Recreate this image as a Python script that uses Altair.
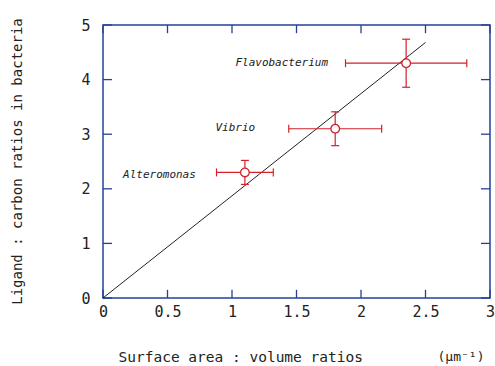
import altair as alt
import pandas as pd

# ---- data ----
names = ["Alteromonas", "Vibrio", "Flavobacterium"]
sa_vol = [1.10, 1.80, 2.35]          # surface area : volume (µm^-1)
sa_err = [0.22, 0.36, 0.47]
ligand_c = [2.30, 3.10, 4.30]        # ligand : carbon
ligand_err = [0.22, 0.31, 0.44]
label_x = [0.72, 1.18, 1.745]        # right edge of the species labels
label_y = [2.25, 3.11, 4.30]
fit_x = [0.0, 2.5]
fit_y = [0.0, 4.68]
x_ticks = [0, 0.5, 1, 1.5, 2, 2.5, 3]
y_ticks = [0, 1, 2, 3, 4, 5]

RED = "#d3202b"
BLUE = "#26409a"
INK = "#222222"
MONO = "DejaVu Sans Mono"

pts = pd.DataFrame({"name": names, "x": sa_vol, "xe": sa_err, "y": ligand_c, "ye": ligand_err,
                    "lx": label_x, "ly": label_y})
fit = pd.DataFrame({"x": fit_x, "y": fit_y})
xt = pd.DataFrame({"t": x_ticks})
yt = pd.DataFrame({"t": y_ticks})

xs = alt.Scale(domain=[0, 3], nice=False, zero=False)
ys = alt.Scale(domain=[0, 5], nice=False, zero=False)
xaxis = alt.Axis(values=x_ticks, format="~g", title="Surface area : volume ratios",
                 titleAnchor="start", titleX=15, titleY=59, titleBaseline="middle",
                 titleFontSize=14.5, titleFont=MONO, titleFontWeight="normal", titleColor=INK,
                 labelFont=MONO, labelFontSize=15, labelColor=INK, labelPadding=6, labelFlush=False,
                 labelOverlap=False, domain=False, ticks=False, grid=False)
yaxis = alt.Axis(values=y_ticks, format="~g", title="Ligand : carbon ratios in bacteria",
                 titleX=-86, titleY=136, titleAnchor="middle", titleBaseline="middle", titleAlign="center",
                 titleFontSize=14, titleFont=MONO, titleFontWeight="normal", titleColor=INK,
                 labelFont=MONO, labelFontSize=15, labelColor=INK, labelPadding=13, labelFlush=False,
                 labelOverlap=False, domain=False, ticks=False, grid=False)


def X(f):
    return alt.X(f, type="quantitative", scale=xs, axis=xaxis)


def Y(f):
    return alt.Y(f, type="quantitative", scale=ys, axis=yaxis)


base = alt.Chart(pts).transform_calculate(
    xlo="datum.x - datum.xe", xhi="datum.x + datum.xe",
    ylo="datum.y - datum.ye", yhi="datum.y + datum.ye")

fit_line = alt.Chart(fit).mark_line(color=INK, strokeWidth=1).encode(x=X("x"), y=Y("y"))

hbar = base.mark_rule(color=RED, strokeWidth=1.2).encode(x=X("xlo"), x2="xhi", y=Y("y"))
vbar = base.mark_rule(color=RED, strokeWidth=1.2).encode(x=X("x"), y=Y("ylo"), y2="yhi")
cap_l = base.mark_tick(orient="vertical", color=RED, size=8, thickness=1.2, opacity=1).encode(x=X("xlo"), y=Y("y"))
cap_r = base.mark_tick(orient="vertical", color=RED, size=8, thickness=1.2, opacity=1).encode(x=X("xhi"), y=Y("y"))
cap_b = base.mark_tick(orient="horizontal", color=RED, size=8, thickness=1.2, opacity=1).encode(x=X("x"), y=Y("ylo"))
cap_t = base.mark_tick(orient="horizontal", color=RED, size=8, thickness=1.2, opacity=1).encode(x=X("x"), y=Y("yhi"))
dots = base.mark_point(shape="circle", filled=True, fill="white", stroke=RED, strokeWidth=1.3,
                       size=75, opacity=1).encode(x=X("x"), y=Y("y"))
labels = base.mark_text(font=MONO, fontStyle="italic", fontSize=11, color=INK, align="right",
                        baseline="middle").encode(x=X("lx"), y=Y("ly"), text="name:N")

tick_b = alt.Chart(xt).transform_calculate(a="0", b="0.15").mark_rule(color=BLUE, strokeWidth=1.3).encode(
    x=X("t"), y=Y("a:Q"), y2="b:Q")
tick_t = alt.Chart(xt).transform_calculate(a="5", b="4.85").mark_rule(color=BLUE, strokeWidth=1.3).encode(
    x=X("t"), y=Y("a:Q"), y2="b:Q")
tick_l = alt.Chart(yt).transform_calculate(a="0", b="0.07").mark_rule(color=BLUE, strokeWidth=1.3).encode(
    y=Y("t"), x=X("a:Q"), x2="b:Q")
tick_r = alt.Chart(yt).transform_calculate(a="3", b="2.93").mark_rule(color=BLUE, strokeWidth=1.3).encode(
    y=Y("t"), x=X("a:Q"), x2="b:Q")

unit = alt.Chart(pd.DataFrame({"u": ["(μm⁻¹)"]})).mark_text(
    font=MONO, fontSize=13, color=INK, align="center", baseline="middle").encode(
    x=alt.value(358), y=alt.value(332), text="u:N")

chart = alt.layer(tick_b, tick_t, tick_l, tick_r, fit_line, hbar, vbar, cap_l, cap_r, cap_b, cap_t,
                  dots, labels, unit).properties(
    width=387, height=273,
    autosize=alt.AutoSizeParams(type="none"),
    padding={"left": 103, "top": 25, "right": 5, "bottom": 68},
    background="white",
).configure_view(stroke=BLUE, strokeWidth=1.5)

chart.save("out.html", embed_options={"renderer": "svg", "actions": False})
